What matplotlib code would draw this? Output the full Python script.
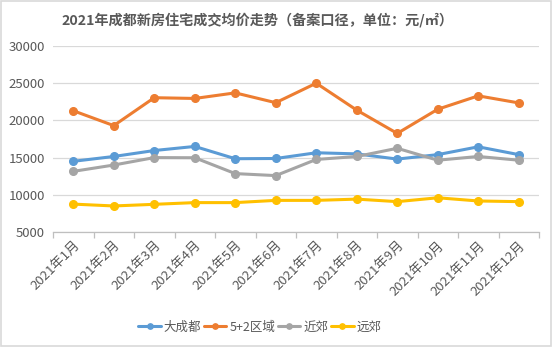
import matplotlib
matplotlib.use("Agg")
import matplotlib.pyplot as plt
from matplotlib.patches import Rectangle

plt.rcParams['font.family'] = ['Noto Sans CJK SC', 'DejaVu Sans']

months = ["2021年1月", "2021年2月", "2021年3月", "2021年4月", "2021年5月", "2021年6月",
          "2021年7月", "2021年8月", "2021年9月", "2021年10月", "2021年11月", "2021年12月"]
da_chengdu = [14500, 15150, 15950, 16500, 14850, 14880, 15650, 15500, 14800, 15400, 16450, 15400]
zone_5_2 = [21300, 19300, 23050, 22950, 23700, 22380, 25000, 21380, 18250, 21500, 23300, 22350]
jin_jiao = [13150, 14000, 15000, 14980, 12850, 12580, 14750, 15150, 16250, 14650, 15150, 14650]
yuan_jiao = [8750, 8500, 8720, 8950, 8950, 9250, 9250, 9420, 9080, 9600, 9170, 9080]

series = [
    ("大成都", da_chengdu, "#5B9BD5"),
    ("5+2区域", zone_5_2, "#ED7D31"),
    ("近郊", jin_jiao, "#A5A5A5"),
    ("远郊", yuan_jiao, "#FFC000"),
]
yticks = [5000, 10000, 15000, 20000, 25000, 30000]

fig = plt.figure(figsize=(5.53, 3.47), dpi=100)
fig.patch.set_facecolor("white")
fig.add_artist(Rectangle((0.002, 0.003), 0.995, 0.994, transform=fig.transFigure,
                         fill=False, edgecolor="#d9d9d9", linewidth=1.2))

W, H = 553, 347
ax = fig.add_axes([53 / W, 1 - 232 / H, (539 - 53) / W, (232 - 46) / H])
x = list(range(len(months)))
for name, vals, color in series:
    ax.plot(x, vals, color=color, linewidth=2.2, marker="o", markersize=5.5,
            label=name, solid_capstyle="round")

ax.set_xlim(-0.5, len(months) - 0.5)
ax.set_ylim(5000, 30000)
ax.set_yticks(yticks)
ax.set_yticklabels([str(v) for v in yticks], fontsize=9.5, color="#595959")
ax.yaxis.grid(True, color="#d9d9d9", linewidth=0.9)
ax.set_axisbelow(True)
ax.tick_params(axis="y", length=0, pad=6)

ax.set_xticks([i - 0.5 for i in range(len(months) + 1)], minor=False)
ax.set_xticklabels([])
ax.tick_params(axis="x", which="major", length=4, color="#bfbfbf", width=0.9)
ax.set_xticks(x, minor=True)
ax.set_xticklabels(months, minor=True, rotation=45, ha="right", va="top",
                   rotation_mode="anchor", fontsize=9.5, color="#595959")
ax.tick_params(axis="x", which="minor", length=0, pad=5)

for s in ["top", "right", "left"]:
    ax.spines[s].set_visible(False)
ax.spines["bottom"].set_color("#bfbfbf")
ax.spines["bottom"].set_linewidth(0.9)

fig.text(257 / W, 1 - 20 / H, "2021年成都新房住宅成交均价走势（备案口径，单位：元/㎡）",
         ha="center", va="center", fontsize=10.2, fontweight="bold", color="#595959")

leg = fig.legend(loc="center", bbox_to_anchor=(260 / W, 1 - 327 / H), ncol=4, frameon=False,
                 fontsize=9, handlelength=1.8, columnspacing=0.2, handletextpad=0.25,
                 markerscale=0.7)
for t in leg.get_texts():
    t.set_color("#595959")

fig.savefig("out.png", dpi=100, facecolor="white")
